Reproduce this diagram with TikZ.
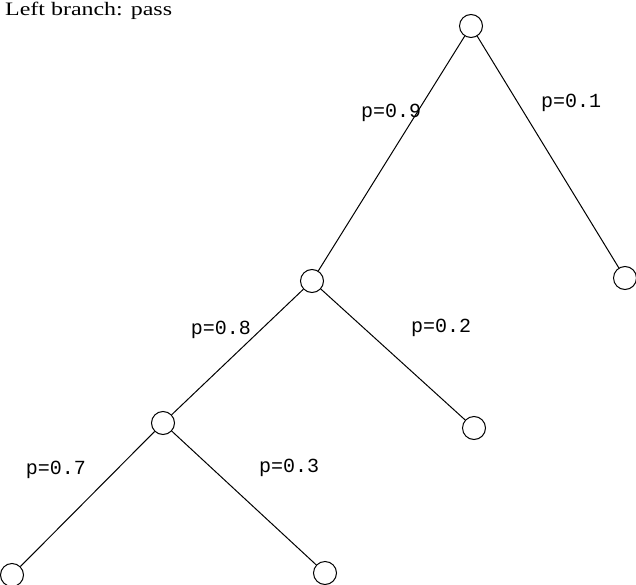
\documentclass[tikz,border=0pt]{standalone}
\usepackage{fontspec}
\setmainfont{Liberation Serif}
\newfontfamily\labfont{Liberation Mono}
\begin{document}
\begin{tikzpicture}[x=1pt,y=-1pt,
  vert/.style={circle,draw,line width=1pt,minimum size=23pt,inner sep=0pt},
  edge/.style={line width=1pt},
  plab/.style={font=\labfont\fontsize{20}{20}\selectfont,inner sep=0pt},
  ttl/.style={font=\fontsize{19}{19}\selectfont,inner sep=0pt,anchor=west}]
\useasboundingbox (0,0) rectangle (636,585);
\node[vert] (A) at (471,26) {};
\node[vert] (B) at (625,278) {};
\node[vert] (C) at (312,281) {};
\node[vert] (D) at (474,428) {};
\node[vert] (E) at (163,423) {};
\node[vert] (F) at (12,575) {};
\node[vert] (G) at (325,573) {};
\draw[edge] (A) -- (C);
\draw[edge] (A) -- (B);
\draw[edge] (C) -- (E);
\draw[edge] (C) -- (D);
\draw[edge] (E) -- (F);
\draw[edge] (E) -- (G);
\node[ttl] (T) at (5,11) {\scalebox{1.26}[1]{Left branch: pass}};
\node[plab] (L9) at (391,113) {p=0.9};
\node[plab] (L1) at (571,103) {p=0.1};
\node[plab] (L8) at (221,330) {p=0.8};
\node[plab] (L2) at (441,328) {p=0.2};
\node[plab] (L7) at (56,470) {p=0.7};
\node[plab] (L3) at (289,468) {p=0.3};
\end{tikzpicture}
\end{document}
